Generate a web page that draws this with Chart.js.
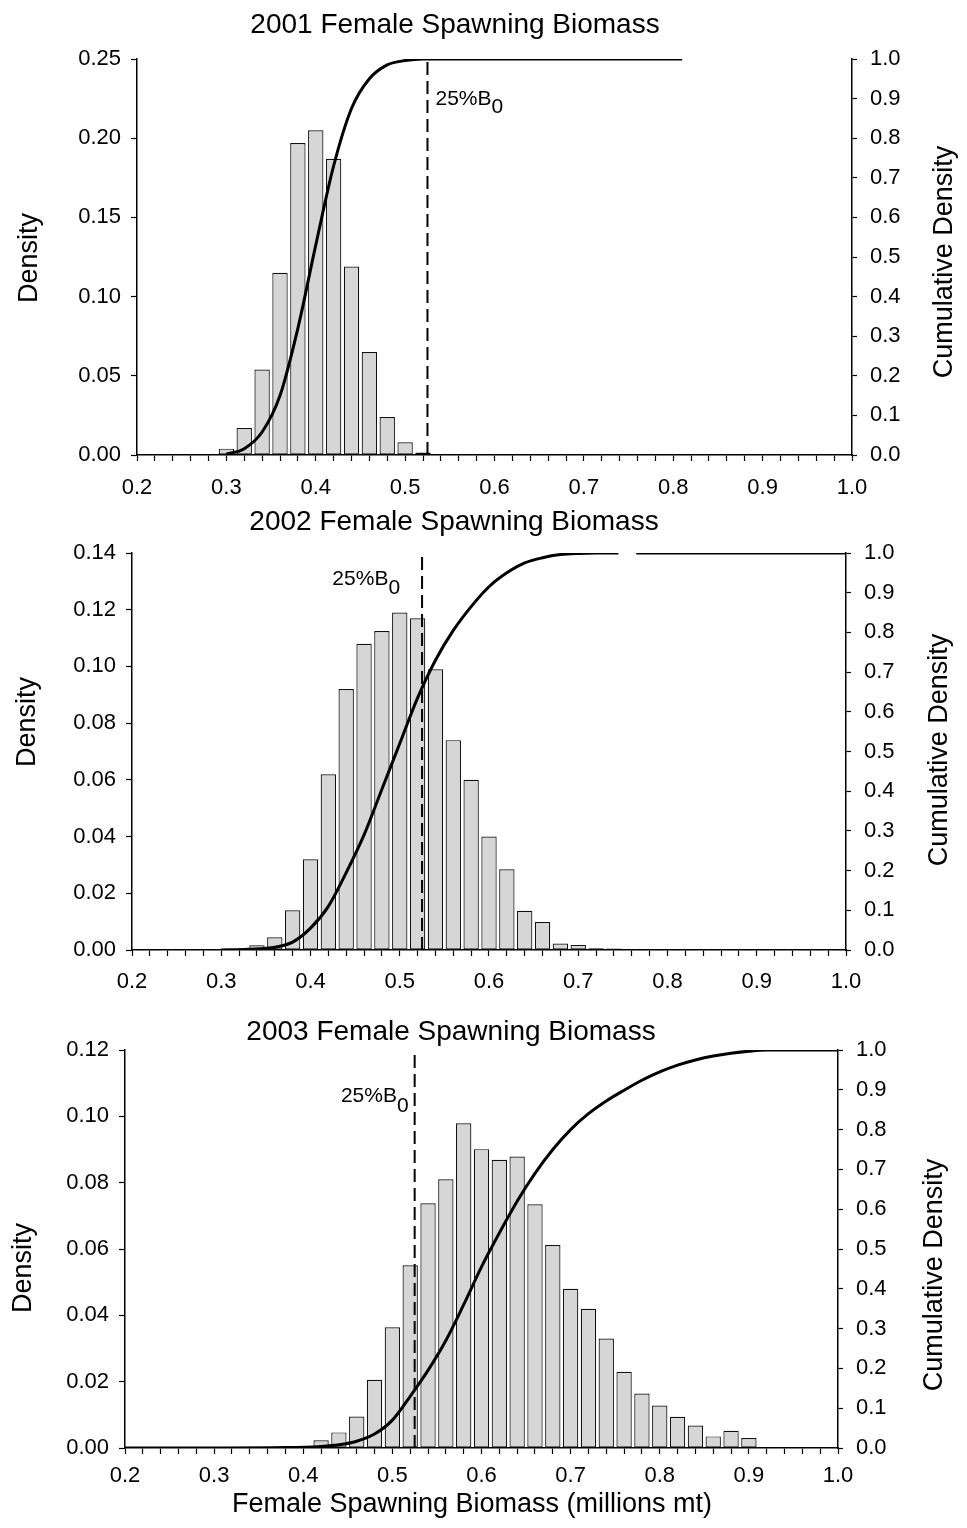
<!DOCTYPE html>
<html>
<head>
<meta charset="utf-8">
<title>Female Spawning Biomass</title>
<script src="https://cdn.jsdelivr.net/npm/chart.js@4.4.1/dist/chart.umd.min.js"></script>
<style>
  body { margin: 0; background: #fff; width: 967px; height: 1528px; position: relative; overflow: hidden; }
  canvas { position: absolute; left: 0; }
</style>
</head>
<body>
<canvas id="p2001"></canvas>
<canvas id="p2002"></canvas>
<canvas id="p2003"></canvas>
<script>
// ---- 데이터 ----
const REF_B0 = 0.525;              // 25%B0 기준선 위치
const xTickMin = 0.2, xTickMax = 1.0, xTickStep = 0.02;

// 2001
const bins2001 = [0.30, 0.32, 0.34, 0.36, 0.38, 0.40, 0.42, 0.44, 0.46, 0.48, 0.50, 0.52];
const density2001 = [0.004, 0.017, 0.054, 0.115, 0.197, 0.205, 0.187, 0.119, 0.065, 0.024, 0.008, 0.0015];
const cumX2001 = [0.30, 0.32, 0.34, 0.36, 0.38, 0.40, 0.42, 0.44, 0.46, 0.48, 0.50, 0.52, 0.60, 0.70, 0.81];
const cum2001 = [0.002, 0.016, 0.058, 0.15, 0.32, 0.53, 0.73, 0.875, 0.95, 0.985, 0.996, 1, 1, 1, 1];

// 2002 (곡선의 끊긴 부분은 null)
const bins2002 = [0.34, 0.36, 0.38, 0.40, 0.42, 0.44, 0.46, 0.48, 0.50, 0.52, 0.54,
                  0.56, 0.58, 0.60, 0.62, 0.64, 0.66, 0.68, 0.70, 0.72, 0.74];
const density2002 = [0.0017, 0.0045, 0.014, 0.032, 0.062, 0.092, 0.108, 0.1125, 0.119, 0.117, 0.099,
                     0.074, 0.060, 0.040, 0.0285, 0.0138, 0.0099, 0.0023, 0.0018, 0.0006, 0.0005];
const cumX2002 = [0.30, 0.33, 0.36, 0.38, 0.40, 0.42, 0.44, 0.46, 0.48, 0.50, 0.52, 0.54, 0.56,
                  0.58, 0.60, 0.62, 0.64, 0.66, 0.68, 0.70, 0.72, 0.745, 0.755, 0.765, 1.0];
const cum2002 = [0, 0.002, 0.007, 0.02, 0.055, 0.11, 0.195, 0.29, 0.405, 0.52, 0.635, 0.73, 0.805,
                 0.865, 0.915, 0.95, 0.975, 0.988, 0.996, 0.999, 1, 1, null, 1, 1];

// 2003
const bins2003 = [0.42, 0.44, 0.46, 0.48, 0.50, 0.52, 0.54, 0.56, 0.58, 0.60, 0.62, 0.64, 0.66,
                  0.68, 0.70, 0.72, 0.74, 0.76, 0.78, 0.80, 0.82, 0.84, 0.86, 0.88, 0.90];
const density2003 = [0.0023, 0.0047, 0.0095, 0.0206, 0.0364, 0.0551, 0.0738, 0.081, 0.0979, 0.0901,
                     0.0869, 0.0879, 0.0735, 0.0612, 0.048, 0.042, 0.033, 0.023, 0.0164, 0.0128,
                     0.0094, 0.0068, 0.0035, 0.0052, 0.003];
const cumX2003 = [0.20, 0.30, 0.38, 0.42, 0.44, 0.46, 0.48, 0.50, 0.52, 0.54, 0.56, 0.58, 0.60, 0.62,
                  0.64, 0.66, 0.68, 0.70, 0.72, 0.74, 0.76, 0.78, 0.80, 0.82, 0.84, 0.86, 0.88, 0.90, 0.92, 1.0];
const cum2003 = [0, 0, 0.001, 0.004, 0.008, 0.017, 0.035, 0.07, 0.13, 0.195, 0.27, 0.36, 0.455, 0.54,
                 0.62, 0.69, 0.75, 0.80, 0.84, 0.872, 0.899, 0.924, 0.945, 0.962, 0.975, 0.985, 0.992, 0.997, 1, 1];

// ---- 공통 설정 ----
const W = 967;
const FONT = '"Liberation Sans", Arial, Helvetica, sans-serif';
Chart.defaults.font.family = FONT;
Chart.defaults.color = '#000';
Chart.defaults.animation = false;

const font = size => size + 'px ' + FONT;

// 세로 글자 (아래에서 위로 읽힘)
function vText(ctx, text, x, y, size) {
    ctx.save();
    ctx.translate(x, y);
    ctx.rotate(-Math.PI / 2);
    ctx.font = font(size);
    ctx.textAlign = 'center';
    ctx.textBaseline = 'middle';
    ctx.fillText(text, 0, 0);
    ctx.restore();
}

// 제목, 축 제목, 25%B0 라벨을 그리는 플러그인
const panelText = {
    id: 'panelText',
    afterDraw(chart, args, o) {
        const ctx = chart.ctx;
        ctx.save();
        ctx.fillStyle = '#000';
        ctx.textAlign = 'center';
        ctx.textBaseline = 'middle';
        ctx.font = font(28);
        ctx.fillText(o.title, o.titleX, o.titleY);

        vText(ctx, 'Density', o.leftX, o.leftY, 27);
        vText(ctx, 'Cumulative Density', o.rightX, o.rightY, 27);

        if (o.xTitle) {
            ctx.font = font(27);
            ctx.fillText(o.xTitle, o.xTitleX, o.xTitleY);
        }

        // 25%B0 (아래첨자 0)
        ctx.font = font(21);
        ctx.textAlign = 'left';
        ctx.textBaseline = 'alphabetic';
        const wMain = ctx.measureText('25%B').width;
        const wSub = ctx.measureText('0').width;
        const lineX = chart.scales.x.getPixelForValue(REF_B0);
        const x0 = o.refSide === 'right' ? lineX + o.refGap : lineX - o.refGap - wMain - wSub;
        ctx.fillText('25%B', x0, o.refY);
        ctx.fillText('0', x0 + wMain, o.refY + o.subDrop);
        ctx.restore();
    }
};

const isMajor = v => Math.abs(v * 10 - Math.round(v * 10)) < 1e-6;

function drawPanel(id, p) {
    const cv = document.getElementById(id);
    cv.width = W;
    cv.height = p.height;
    cv.style.width = W + 'px';
    cv.style.height = p.height + 'px';
    cv.style.top = p.top + 'px';

    const bars = p.bins.map((b, i) => ({ x: b, y: p.dens[i] }));
    const cum = p.cumX.map((x, i) => ({ x: x, y: p.cum[i] }));
    const refLine = [{ x: REF_B0, y: 0 }, { x: REF_B0, y: p.yMax }];

    return new Chart(cv, {
        data: {
            datasets: [
                { type: 'line', data: cum, yAxisID: 'y1', borderColor: '#000', borderWidth: 3,
                  pointRadius: 0, cubicInterpolationMode: 'monotone', spanGaps: false, order: 0 },
                { type: 'line', data: refLine, yAxisID: 'y', borderColor: '#000', borderWidth: 2,
                  borderDash: [13, 6], pointRadius: 0, order: 1 },
                { type: 'bar', data: bars, yAxisID: 'y', backgroundColor: '#d6d6d6',
                  borderColor: '#111', borderWidth: 1.2, borderSkipped: false,
                  barPercentage: 0.86, categoryPercentage: 1, order: 2 }
            ]
        },
        options: {
            responsive: false,
            layout: { padding: { top: p.area.top, left: 0, right: 0, bottom: 0 } },
            plugins: {
                legend: { display: false },
                tooltip: { enabled: false },
                panelText: p.text
            },
            scales: {
                x: {
                    type: 'linear', min: xTickMin, max: xTickMax, offset: false,
                    grid: { drawOnChartArea: false, offset: false, tickLength: 6, color: '#000', tickWidth: 1.2 },
                    border: { color: '#000', width: 1.5 },
                    ticks: { stepSize: xTickStep, autoSkip: false, maxRotation: 0, padding: p.xPad,
                             font: { size: 22 }, callback: v => isMajor(v) ? v.toFixed(1) : '' },
                    afterFit: s => { s.height = p.height - p.area.bottom; }
                },
                y: {
                    position: 'left', min: 0, max: p.yMax,
                    grid: { drawOnChartArea: false, tickLength: 6, color: '#000', tickWidth: 1.2 },
                    border: { color: '#000', width: 1.5 },
                    ticks: { stepSize: p.yStep, padding: 10, font: { size: 22 }, callback: v => v.toFixed(2) },
                    afterFit: s => { s.width = p.area.left; }
                },
                y1: {
                    position: 'right', min: 0, max: 1,
                    grid: { drawOnChartArea: false, tickLength: 5, color: '#000', tickWidth: 1.2 },
                    border: { color: '#000', width: 1.5 },
                    ticks: { stepSize: 0.1, padding: 13, font: { size: 22 }, callback: v => v.toFixed(1) },
                    afterFit: s => { s.width = W - p.area.right; }
                }
            }
        },
        plugins: [panelText]
    });
}

// ---- 세 개의 패널 ----
drawPanel('p2001', {
    top: 0, height: 505,
    area: { left: 137, right: 852, top: 59, bottom: 455 },
    yMax: 0.25, yStep: 0.05, xPad: 14,
    bins: bins2001, dens: density2001, cumX: cumX2001, cum: cum2001,
    text: { title: '2001 Female Spawning Biomass', titleX: 455, titleY: 25,
            leftX: 30, leftY: 258, rightX: 945, rightY: 262,
            refSide: 'right', refGap: 8, refY: 105, subDrop: 8 }
});

drawPanel('p2002', {
    top: 500, height: 500,
    area: { left: 132, right: 846, top: 53, bottom: 450 },
    yMax: 0.14, yStep: 0.02, xPad: 13,
    bins: bins2002, dens: density2002, cumX: cumX2002, cum: cum2002,
    text: { title: '2002 Female Spawning Biomass', titleX: 454, titleY: 22,
            leftX: 28, leftY: 222, rightX: 940, rightY: 250,
            refSide: 'left', refGap: 22, refY: 85, subDrop: 9 }
});

drawPanel('p2003', {
    top: 1000, height: 528,
    area: { left: 125, right: 838, top: 50, bottom: 448 },
    yMax: 0.12, yStep: 0.02, xPad: 9,
    bins: bins2003, dens: density2003, cumX: cumX2003, cum: cum2003,
    text: { title: '2003 Female Spawning Biomass', titleX: 451, titleY: 32,
            leftX: 24, leftY: 268, rightX: 935, rightY: 275,
            xTitle: 'Female Spawning Biomass (millions mt)', xTitleX: 472, xTitleY: 505,
            refSide: 'left', refGap: 6, refY: 102, subDrop: 10 }
});
</script>
</body>
</html>
